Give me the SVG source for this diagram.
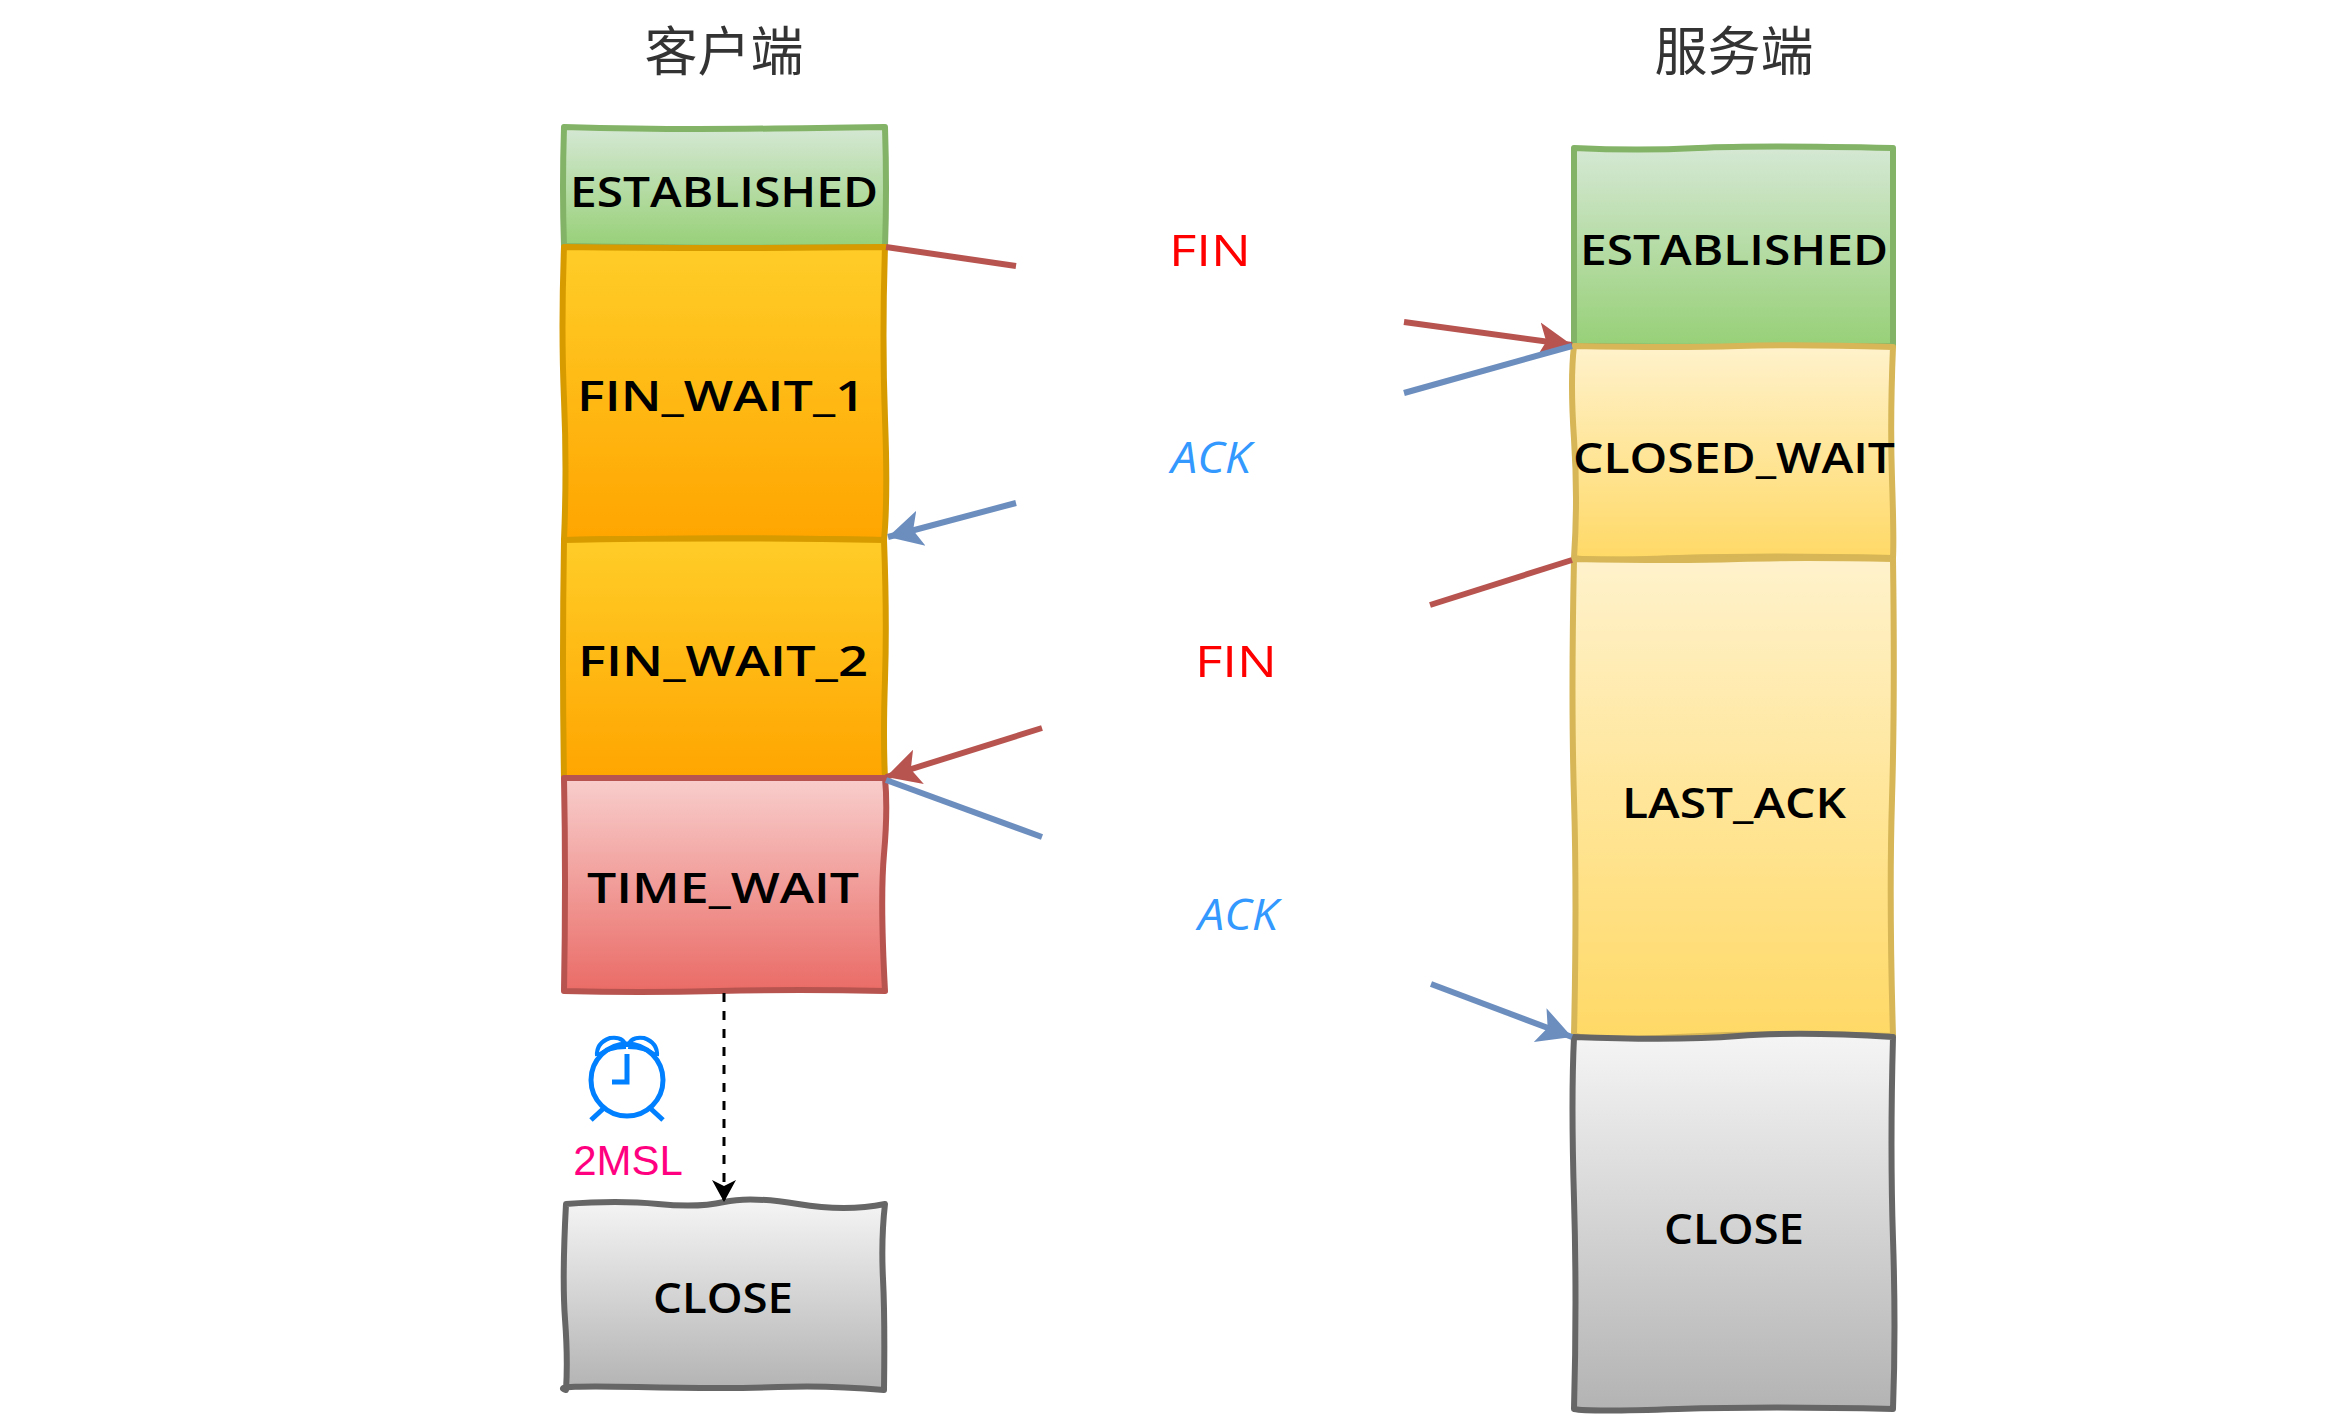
<svg xmlns="http://www.w3.org/2000/svg" width="2348" height="1422" viewBox="0 0 2348 1422">
<style>
.box{stroke-width:6;stroke-linejoin:round}
.lab{font-family:"Comic Sans MS","Open Sans","Noto Sans",sans-serif;font-size:42px;font-weight:600;fill:#000;text-anchor:middle}
.msg{font-family:"Comic Sans MS","Open Sans","Noto Sans",sans-serif;font-size:44px;text-anchor:middle}
.ttl{font-family:"Noto Sans CJK SC","Noto Sans",sans-serif;font-size:53px;fill:#333;text-anchor:middle}
.c{fill:none;stroke-width:6}
.red{stroke:#b85450}.blue{stroke:#6c8ebf}
</style>
<defs>
<linearGradient id="gG" x1="0" y1="0" x2="0" y2="1"><stop offset="0" stop-color="#d5e8d4"/><stop offset="1" stop-color="#97d077"/></linearGradient>
<linearGradient id="gO" x1="0" y1="0" x2="0" y2="1"><stop offset="0" stop-color="#ffcd28"/><stop offset="1" stop-color="#ffa500"/></linearGradient>
<linearGradient id="gR" x1="0" y1="0" x2="0" y2="1"><stop offset="0" stop-color="#f8cecc"/><stop offset="1" stop-color="#ea6b66"/></linearGradient>
<linearGradient id="gY" x1="0" y1="0" x2="0" y2="1"><stop offset="0" stop-color="#fff2cc"/><stop offset="1" stop-color="#ffd966"/></linearGradient>
<linearGradient id="gS" x1="0" y1="0" x2="0" y2="1"><stop offset="0" stop-color="#f5f5f5"/><stop offset="1" stop-color="#b3b3b3"/></linearGradient>
<marker id="aR" markerUnits="userSpaceOnUse" markerWidth="38" markerHeight="40" refX="34" refY="20" orient="auto"><path d="M0 2L34 20L0 38L8 20Z" fill="#b85450"/></marker>
<marker id="aB" markerUnits="userSpaceOnUse" markerWidth="38" markerHeight="40" refX="34" refY="20" orient="auto"><path d="M0 2L34 20L0 38L8 20Z" fill="#6c8ebf"/></marker>
<marker id="aK" markerUnits="userSpaceOnUse" markerWidth="26" markerHeight="28" refX="22" refY="14" orient="auto"><path d="M0 2L22 14L0 26L6 14Z" fill="#000"/></marker>
</defs>
<g transform="translate(-2 -1)">
<text class="ttl" x="726" y="72">客户端</text>
<text class="ttl" x="1736" y="72">服务端</text>

<g id="c-established">
<path class="box" fill="url(#gG)" stroke="#82b366" d="M566 128Q640 130 700 130T887 128Q889 190 887 248Q720 250 566 247Q564 190 566 128Z"/>
<text class="lab" x="726" y="208" textLength="308" lengthAdjust="spacingAndGlyphs">ESTABLISHED</text>
</g>
<g id="c-fin-wait-1">
<path class="box" fill="url(#gO)" stroke="#d79b00" d="M566 248Q720 250 887 248Q884 340 887 420T886 541Q720 538 566 541Q569 470 566 400T566 248Z"/>
<text class="lab" x="723" y="412" textLength="288" lengthAdjust="spacingAndGlyphs">FIN_WAIT_1</text>
</g>
<g id="c-fin-wait-2">
<path class="box" fill="url(#gO)" stroke="#d79b00" d="M566 541Q720 538 886 541Q889 620 887 680T887 779L566 779Q564 660 566 541Z"/>
<text class="lab" x="725" y="677" textLength="290" lengthAdjust="spacingAndGlyphs">FIN_WAIT_2</text>
</g>
<g id="c-time-wait">
<path class="box" fill="url(#gR)" stroke="#b85450" d="M566 779L887 779Q890 810 886 855T887 992Q800 990 720 992T566 992Q568 880 566 779Z"/>
<text class="lab" x="725" y="904" textLength="272" lengthAdjust="spacingAndGlyphs">TIME_WAIT</text>
</g>
<g id="c-close">
<path class="box" fill="url(#gS)" stroke="#666" d="M568 1205Q620 1201 660 1205T726 1203T800 1205T887 1205Q883 1240 885 1280T886 1391Q830 1386 780 1388T640 1388T568 1391Q570 1360 567 1320T568 1205Z"/>
<text class="lab" x="725" y="1314" textLength="140" lengthAdjust="spacingAndGlyphs">CLOSE</text>
</g>

<g id="s-established">
<path class="box" fill="url(#gG)" stroke="#82b366" d="M1576 149Q1640 152 1700 149T1895 149L1895 347Q1740 349 1576 347Z"/>
<text class="lab" x="1736" y="266" textLength="308" lengthAdjust="spacingAndGlyphs">ESTABLISHED</text>
</g>
<g id="s-closed-wait">
<path class="box" fill="url(#gY)" stroke="#d6b656" d="M1576 347Q1680 349 1740 347T1895 348Q1892 420 1894 480T1895 559Q1770 556 1680 559T1576 559Q1580 500 1576 440T1576 347Z"/>
<text class="lab" x="1736" y="474" textLength="322" lengthAdjust="spacingAndGlyphs">CLOSED_WAIT</text>
</g>
<g id="s-last-ack">
<path class="box" fill="url(#gY)" stroke="#d6b656" d="M1576 560Q1680 562 1740 560T1895 560Q1897 700 1894 800T1895 1037Q1770 1033 1680 1038T1576 1036Q1579 900 1576 800T1576 560Z"/>
<text class="lab" x="1736" y="819" textLength="224" lengthAdjust="spacingAndGlyphs">LAST_ACK</text>
</g>
<g id="s-close">
<path class="box" fill="url(#gS)" stroke="#666" d="M1576 1038Q1680 1042 1740 1037T1895 1038Q1892 1150 1895 1240T1895 1410Q1770 1407 1680 1410T1576 1410Q1579 1300 1576 1200T1576 1038Z"/>
<text class="lab" x="1736" y="1245" textLength="140" lengthAdjust="spacingAndGlyphs">CLOSE</text>
</g>

<g id="alarm" fill="none" stroke="#007fff" stroke-width="5">
<circle cx="629" cy="1081" r="36"/>
<path d="M629 1055V1083H614"/>
<path d="M599 1057Q598 1044 612 1039Q626 1037 628 1048M599 1057Q610 1048 628 1048M659 1057Q660 1044 646 1039Q632 1037 630 1048M659 1057Q648 1048 630 1048" stroke-width="4"/>
<path d="M606 1109L593 1121M652 1109L665 1121"/>
</g>
<text id="msl" x="630" y="1176" font-family="'Liberation Sans',Arial,sans-serif" font-size="42" fill="#ff0080" text-anchor="middle">2MSL</text>

<g id="connectors">
<path class="c red" d="M888 248L1018 267"/>
<path class="c red" d="M1406 323L1574 346" marker-end="url(#aR)"/>
<path class="c blue" d="M1406 394L1574 347"/>
<path class="c blue" d="M1018 504L890 538" marker-end="url(#aB)"/>
<path class="c red" d="M1574 561L1432 606"/>
<path class="c red" d="M1044 729L888 778" marker-end="url(#aR)"/>
<path class="c blue" d="M888 781L1044 838"/>
<path class="c blue" d="M1433 985L1574 1038" marker-end="url(#aB)"/>
<path d="M726 994V1203" fill="none" stroke="#000" stroke-width="3" stroke-dasharray="9 9" marker-end="url(#aK)"/>
</g>
<g id="labels">
<text class="msg" x="1212" y="267" fill="#ff0000" textLength="82" lengthAdjust="spacingAndGlyphs">FIN</text>
<text class="msg" x="1213" y="474" fill="#3399ff" textLength="80" lengthAdjust="spacingAndGlyphs" font-style="italic">ACK</text>
<text class="msg" x="1238" y="678" fill="#ff0000" textLength="82" lengthAdjust="spacingAndGlyphs">FIN</text>
<text class="msg" x="1240" y="931" fill="#3399ff" textLength="80" lengthAdjust="spacingAndGlyphs" font-style="italic">ACK</text>
</g>
</g>
</svg>
